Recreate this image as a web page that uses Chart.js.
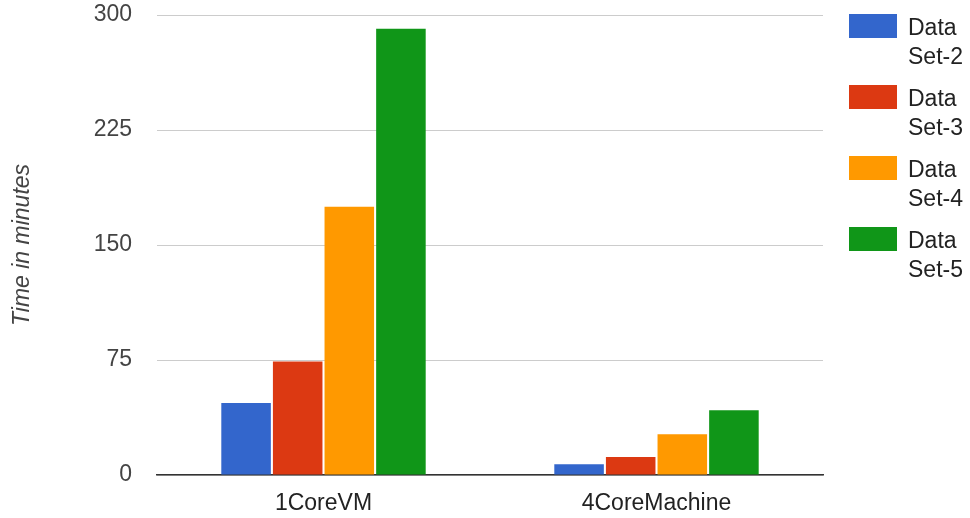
<!DOCTYPE html>
<html>
<head>
<meta charset="utf-8">
<script src="https://cdn.jsdelivr.net/npm/chart.js@4.4.1/dist/chart.umd.min.js"></script>
<style>
  html, body { margin: 0; padding: 0; background: #fff; }
  #wrap { width: 970px; height: 518px; position: relative; }
</style>
</head>
<body>
<div id="wrap"><canvas id="c" width="970" height="518"></canvas></div>
<script>
// Run time per machine configuration, in minutes
const categories = ['1CoreVM', '4CoreMachine'];
const seriesNames = ['Data Set-2', 'Data Set-3', 'Data Set-4', 'Data Set-5'];
const dataSet2 = [47, 7];
const dataSet3 = [74, 11.7];
const dataSet4 = [175, 26.5];
const dataSet5 = [291, 42.2];
const yTicks = [0, 75, 150, 225, 300];

const colors = ['#3366cc', '#dc3912', '#ff9900', '#109618'];
const FONT = '"Liberation Sans", Arial, sans-serif';
const FS = 23;

const seriesValues = [dataSet2, dataSet3, dataSet4, dataSet5];

// Legend on the right: each name split over two lines
const sideLegend = {
  id: 'sideLegend',
  afterDraw(chart) {
    const ctx = chart.ctx;
    ctx.save();
    chart.data.datasets.forEach((ds, i) => {
      const top = 14 + i * 71;
      ctx.fillStyle = ds.backgroundColor;
      ctx.fillRect(849, top, 48, 24);
      ctx.fillStyle = '#222';
      ctx.font = FS + 'px ' + FONT;
      ctx.textBaseline = 'alphabetic';
      ctx.textAlign = 'left';
      const words = ds.label.split(' ');
      ctx.fillText(words[0], 908, top + 21);
      ctx.fillText(words[1], 908, top + 50);
    });
    ctx.restore();
  }
};

new Chart(document.getElementById('c'), {
  type: 'bar',
  data: {
    labels: categories,
    datasets: seriesNames.map((name, i) => ({
      label: name,
      data: seriesValues[i],
      backgroundColor: colors[i],
      borderWidth: 0,
      categoryPercentage: 0.62,
      barPercentage: 0.96
    }))
  },
  options: {
    responsive: false,
    animation: false,
    layout: { padding: { top: 15, right: 147, left: 0, bottom: 0 } },
    plugins: {
      legend: { display: false },
      tooltip: { enabled: false }
    },
    scales: {
      x: {
        grid: { display: false, drawTicks: false },
        border: { display: true, color: '#333', width: 1.5 },
        ticks: { color: '#222', font: { family: FONT, size: FS }, padding: 15 },
        afterFit(s) { s.height = 43; s.paddingLeft = 0; s.paddingRight = 0; }
      },
      y: {
        min: 0,
        max: 300,
        afterBuildTicks(s) { s.ticks = yTicks.map(v => ({ value: v })); },
        grid: { color: '#cccccc', lineWidth: 1, drawTicks: false },
        border: { display: false },
        ticks: { color: '#444', font: { family: FONT, size: FS }, padding: 25 },
        title: {
          display: true,
          text: 'Time in minutes',
          color: '#444',
          font: { family: FONT, size: FS, style: 'italic' },
          padding: { top: 9, bottom: 4 }
        },
        afterFit(s) { s.width = 157; s.paddingTop = 0; s.paddingBottom = 0; }
      }
    }
  },
  plugins: [sideLegend]
});
</script>
</body>
</html>
